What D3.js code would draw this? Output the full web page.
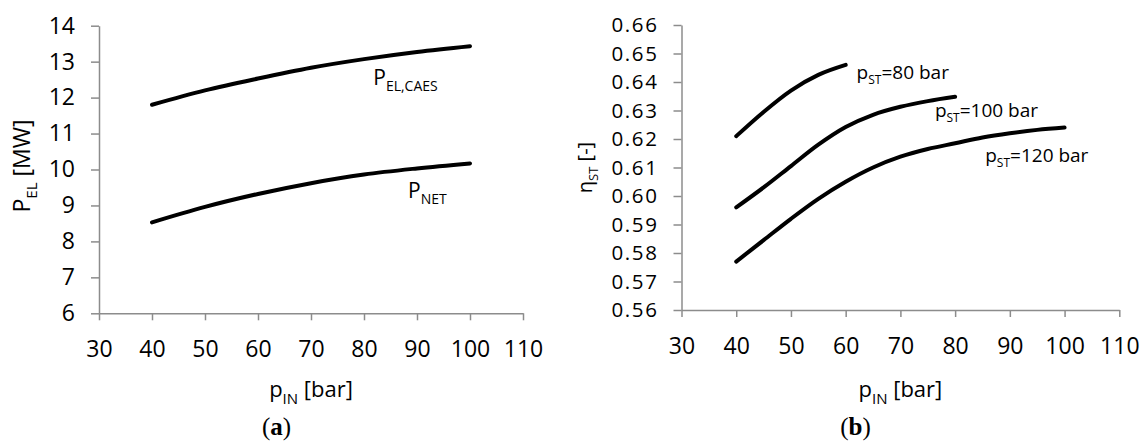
<!DOCTYPE html>
<html>
<head>
<meta charset="utf-8">
<script src="https://cdn.jsdelivr.net/npm/d3@7"></script>
<style>
  body { margin: 0; background: #fff; }
  svg { display: block; }
</style>
</head>
<body>
<svg id="chart"></svg>
<script>
// (a) electric power vs inlet pressure
const pIn = [40, 50, 60, 70, 80, 90, 100];
const pElCaes = [11.8, 12.2, 12.53, 12.83, 13.07, 13.27, 13.43];
const pNet = [8.53, 8.96, 9.32, 9.62, 9.86, 10.03, 10.17];

// (b) storage efficiency vs inlet pressure, one curve per storage pressure
const pIn80 = [40, 45, 50, 55, 60];
const eta80 = [0.621, 0.6295, 0.637, 0.6425, 0.646];
const pIn100 = [40, 45, 50, 55, 60, 65, 70, 75, 80];
const eta100 = [0.596, 0.603, 0.6105, 0.618, 0.6242, 0.6285, 0.6313, 0.6333, 0.6348];
const pIn120 = [40, 45, 50, 55, 60, 65, 70, 75, 80, 85, 90, 95, 100];
const eta120 = [0.577, 0.5845, 0.592, 0.599, 0.605, 0.61, 0.6138, 0.6165, 0.6185, 0.6205, 0.622, 0.6232, 0.624];

const xTicks = [30, 40, 50, 60, 70, 80, 90, 100, 110];
const yTicksA = [6, 7, 8, 9, 10, 11, 12, 13, 14];
const yTicksB = [0.56, 0.57, 0.58, 0.59, 0.60, 0.61, 0.62, 0.63, 0.64, 0.65, 0.66];

const WIDTH = 1146;
const HEIGHT = 442;
const FONT = "'Open Sans', sans-serif";
const AXIS_COLOR = "#8c8c8c";

const svg = d3.select("#chart").attr("width", WIDTH).attr("height", HEIGHT);

const line = (x, y) => d3.line()
  .x(d => x(d[0]))
  .y(d => y(d[1]))
  .curve(d3.curveMonotoneX);

// text with a lowered subscript part: parts = [[text, isSub], ...]
function subText(parent, x, y, parts, size, subSize, anchor, transform) {
  const t = parent.append("text")
    .attr("x", x)
    .attr("y", y)
    .attr("text-anchor", anchor || "start")
    .attr("font-family", FONT)
    .attr("font-size", size)
    .attr("fill", "#000");
  if (transform) t.attr("transform", transform);
  let low = false;
  parts.forEach(([s, sub]) => {
    const ts = t.append("tspan").text(s);
    if (sub && !low) { ts.attr("dy", subSize * 0.45).attr("font-size", subSize); low = true; }
    else if (sub) ts.attr("font-size", subSize);
    else if (low) { ts.attr("dy", -subSize * 0.45); low = false; }
  });
  return t;
}

function drawAxes(x, y, yTicks, yFormat, xPad, yPad, ySize, ySpacing) {
  const gx = svg.append("g")
    .attr("transform", `translate(0, ${y.range()[0]})`)
    .call(d3.axisBottom(x).tickValues(xTicks).tickSize(7).tickSizeOuter(0).tickPadding(xPad));
  const gy = svg.append("g")
    .attr("transform", `translate(${x.range()[0]}, 0)`)
    .call(d3.axisLeft(y).tickValues(yTicks)
      .tickFormat(yFormat).tickSize(8).tickSizeOuter(0).tickPadding(yPad));
  [gx, gy].forEach(g => {
    g.selectAll("path, line").attr("stroke", AXIS_COLOR).attr("stroke-width", 1.5);
    g.selectAll("text")
      .attr("font-family", FONT)
      .attr("font-size", 23)
      .attr("fill", "#000");
  });
  gy.selectAll("text").attr("font-size", ySize).attr("letter-spacing", ySpacing);
}

// ---- panel (a)
const xA = d3.scaleLinear().domain([30, 110]).range([99, 523]);
const yA = d3.scaleLinear().domain([6, 14]).range([313.3, 25.7]);
drawAxes(xA, yA, yTicksA, d3.format("d"), 20, 16, 23, 0);

[pElCaes, pNet].forEach(vals => {
  svg.append("path")
    .datum(pIn.map((p, i) => [p, vals[i]]))
    .attr("fill", "none")
    .attr("stroke", "#000")
    .attr("stroke-width", 4)
    .attr("stroke-linecap", "round")
    .attr("d", line(xA, yA));
});

subText(svg, xA(81.75), yA(12.35), [["P"], ["EL,CAES", true]], 21, 14);
subText(svg, xA(88.3), yA(9.22), [["P"], ["NET", true]], 21, 14);

subText(svg, xA(70), 397, [["p"], ["IN", true], [" [bar]"]], 22, 15, "middle");
subText(svg, 0, 0, [["P"], ["EL", true], [" [MW]"]], 23, 15, "middle",
  `translate(30, 166) rotate(-90)`);

// ---- panel (b)
const xB = d3.scaleLinear().domain([30, 110]).range([681.5, 1119.3]);
const yB = d3.scaleLinear().domain([0.56, 0.66]).range([310, 25]);
drawAxes(xB, yB, yTicksB, d3.format(".2f"), 21, 15, 20.5, 1.6);

[[pIn80, eta80], [pIn100, eta100], [pIn120, eta120]].forEach(([xs, ys]) => {
  svg.append("path")
    .datum(xs.map((p, i) => [p, ys[i]]))
    .attr("fill", "none")
    .attr("stroke", "#000")
    .attr("stroke-width", 4)
    .attr("stroke-linecap", "round")
    .attr("d", line(xB, yB));
});

const labelsB = [["=80 bar", 62.0, 0.6412], ["=100 bar", 76.3, 0.6278], ["=120 bar", 85.5, 0.612]];
labelsB.forEach(([s, px, py]) => {
  subText(svg, xB(px), yB(py), [["p"], ["ST", true], [s]], 19, 12);
});

subText(svg, xB(70), 397, [["p"], ["IN", true], [" [bar]"]], 22, 15, "middle");
subText(svg, 0, 0, [["η"], ["ST", true], [" [-]"]], 20, 13, "middle",
  `translate(592, ${(yB.range()[0] + yB.range()[1]) / 2}) rotate(-90)`);

// captions
[["a", xA(63.5)], ["b", xB(61.8)]].forEach(([c, cx]) => {
  const t = svg.append("text")
    .attr("x", cx)
    .attr("y", 435)
    .attr("text-anchor", "middle")
    .attr("font-family", "'Liberation Serif', serif")
    .attr("font-size", 25)
    .attr("fill", "#000");
  t.append("tspan").text("(");
  t.append("tspan").attr("font-weight", "bold").text(c);
  t.append("tspan").text(")");
});
</script>
</body>
</html>
